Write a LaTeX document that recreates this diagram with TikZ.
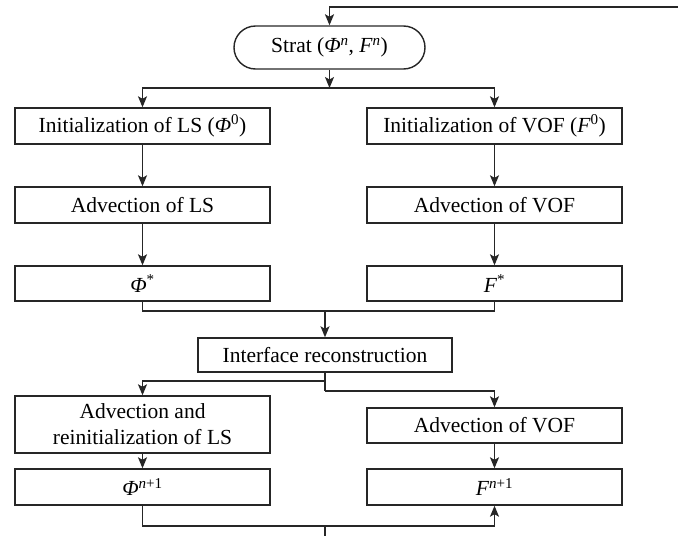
\documentclass[tikz,border=0pt]{standalone}
\usepackage{fontspec}
\setmainfont{Liberation Serif}
\usetikzlibrary{arrows.meta,shapes.misc}
\begin{document}
\begin{tikzpicture}[x=1pt,y=-1pt,
  box/.style={draw=black!85, line width=1.4pt, rectangle, minimum width=255pt, minimum height=36pt, inner sep=0pt, font=\fontsize{21.5}{26}\selectfont, align=center},
  pill/.style={draw=black!85, line width=1.4pt, rounded rectangle, minimum width=191pt, minimum height=43pt, inner sep=0pt, font=\fontsize{21.5}{26}\selectfont},
  conn/.style={line width=1.4pt, black!85},
  arr/.style={conn, -{Stealth[length=11pt,width=9pt,inset=2.5pt]}}]
\useasboundingbox (0,0) rectangle (678,536);
% nodes
\node[pill] (strat) at (329.5,47.5) {Strat ({\itshape Φ}\textsuperscript{\itshape n}, {\itshape F}\textsuperscript{\itshape n})};
\node[box] (i1L) at (142.5,126) {Initialization of LS ({\itshape Φ}\textsuperscript{0})};
\node[box] (i1R) at (494.5,126) {Initialization of VOF ({\itshape F}\textsuperscript{0})};
\node[box] (a1L) at (142.5,205) {Advection of LS};
\node[box] (a1R) at (494.5,205) {Advection of VOF};
\node[box, minimum height=35pt] (sL) at (142.5,283.5) {{\itshape Φ}\textsuperscript{*}};
\node[box, minimum height=35pt] (sR) at (494.5,283.5) {{\itshape F}\textsuperscript{*}};
\node[box, minimum width=254pt, minimum height=34pt] (ir) at (325,355) {Interface reconstruction};
\node[box, minimum height=57pt] (a2L) at (142.5,424.5) {Advection and\\reinitialization of LS};
\node[box, minimum height=35pt] (a2R) at (494.5,425.5) {Advection of VOF};
\node[box] (nL) at (142.5,487) {{\itshape Φ}\textsuperscript{{\itshape n}+1}};
\node[box] (nR) at (494.5,487) {{\itshape F}\textsuperscript{{\itshape n}+1}};
% coordinates
\coordinate (tr) at (678,7);
\coordinate (b1) at (329.5,88);
\coordinate (j) at (325,311);
\coordinate (k1) at (325,381);
\coordinate (k2) at (325,391);
\coordinate (m) at (325,526);
\coordinate (bot) at (325,536);
% connectors
\draw[arr, line width=1.8pt] (tr) -| (strat.north);
\draw[arr] (strat.south) -- (b1);
\draw[arr] (b1) -| (i1L.north);
\draw[arr] (b1) -| (i1R.north);
\draw[arr] (i1L) -- (a1L);
\draw[arr] (i1R) -- (a1R);
\draw[arr] (a1L) -- (sL);
\draw[arr] (a1R) -- (sR);
\draw[conn] (sL.south) |- (j);
\draw[conn] (sR.south) |- (j);
\draw[arr] (j) -- (ir.north);
\draw[conn] (ir.south) -- (k1);
\draw[arr] (k1) -| (a2L.north);
\draw[conn] (k1) -- (k2);
\draw[arr] (k2) -| (a2R.north);
\draw[arr] (a2L) -- (nL);
\draw[arr] (a2R) -- (nR);
\draw[conn] (nL.south) |- (m);
\draw[arr] (m) -| (nR.south);
\draw[conn] (m) -- (bot);
\end{tikzpicture}
\end{document}
